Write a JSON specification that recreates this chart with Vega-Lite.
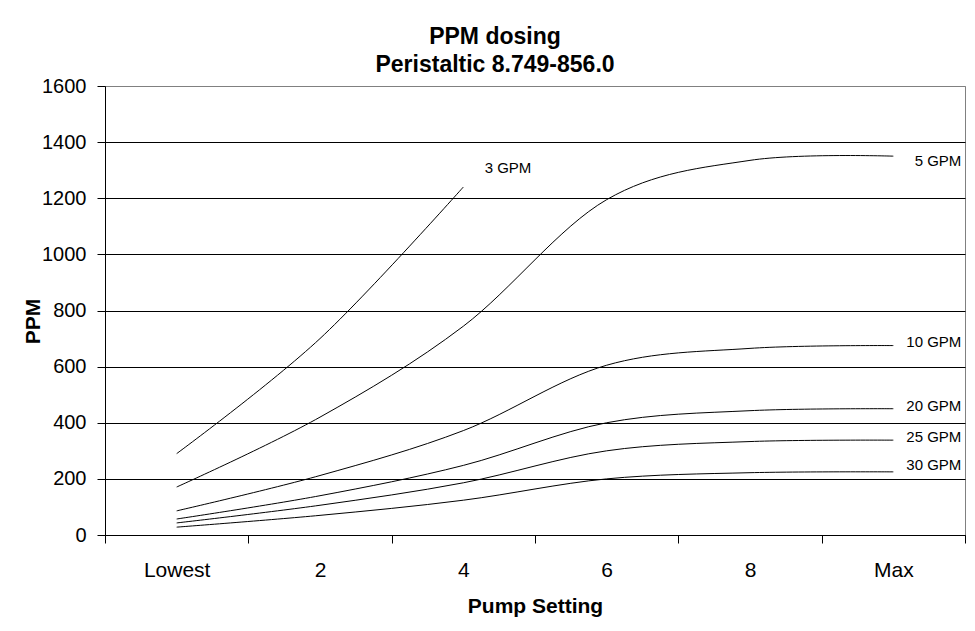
{
  "$schema": "https://vega.github.io/schema/vega-lite/v6.json",
  "autosize": {"type": "none"},
  "padding": {"left": 105, "top": 86, "right": 10, "bottom": 96},
  "width": 860,
  "height": 449,
  "background": "white",
  "title": {
    "text": ["PPM dosing", "Peristaltic 8.749-856.0"],
    "font": "Liberation Sans",
    "fontSize": 23,
    "fontWeight": "bold",
    "color": "black",
    "lineHeight": 28,
    "anchor": "middle",
    "frame": "group",
    "dx": -40,
    "offset": -1
  },
  "datasets": {
    "lines": [
      {"series": "3 GPM", "setting": "Lowest", "ppm": 290},
      {"series": "3 GPM", "setting": "2", "ppm": 700},
      {"series": "3 GPM", "setting": "4", "ppm": 1240},
      {"series": "5 GPM", "setting": "Lowest", "ppm": 171},
      {"series": "5 GPM", "setting": "2", "ppm": 420},
      {"series": "5 GPM", "setting": "4", "ppm": 744},
      {"series": "5 GPM", "setting": "6", "ppm": 1195},
      {"series": "5 GPM", "setting": "8", "ppm": 1335},
      {"series": "5 GPM", "setting": "Max", "ppm": 1350},
      {"series": "10 GPM", "setting": "Lowest", "ppm": 86},
      {"series": "10 GPM", "setting": "2", "ppm": 212},
      {"series": "10 GPM", "setting": "4", "ppm": 372},
      {"series": "10 GPM", "setting": "6", "ppm": 605},
      {"series": "10 GPM", "setting": "8", "ppm": 665},
      {"series": "10 GPM", "setting": "Max", "ppm": 675},
      {"series": "20 GPM", "setting": "Lowest", "ppm": 57},
      {"series": "20 GPM", "setting": "2", "ppm": 140},
      {"series": "20 GPM", "setting": "4", "ppm": 248},
      {"series": "20 GPM", "setting": "6", "ppm": 400},
      {"series": "20 GPM", "setting": "8", "ppm": 443},
      {"series": "20 GPM", "setting": "Max", "ppm": 450},
      {"series": "25 GPM", "setting": "Lowest", "ppm": 43},
      {"series": "25 GPM", "setting": "2", "ppm": 106},
      {"series": "25 GPM", "setting": "4", "ppm": 186},
      {"series": "25 GPM", "setting": "6", "ppm": 300},
      {"series": "25 GPM", "setting": "8", "ppm": 333},
      {"series": "25 GPM", "setting": "Max", "ppm": 338},
      {"series": "30 GPM", "setting": "Lowest", "ppm": 28},
      {"series": "30 GPM", "setting": "2", "ppm": 70},
      {"series": "30 GPM", "setting": "4", "ppm": 124},
      {"series": "30 GPM", "setting": "6", "ppm": 200},
      {"series": "30 GPM", "setting": "8", "ppm": 222},
      {"series": "30 GPM", "setting": "Max", "ppm": 225}
    ],
    "labels": [
      {"label": "3 GPM", "setting": "4", "ppm": 1309},
      {"label": "5 GPM", "setting": "Max", "ppm": 1333},
      {"label": "10 GPM", "setting": "Max", "ppm": 686},
      {"label": "20 GPM", "setting": "Max", "ppm": 460},
      {"label": "25 GPM", "setting": "Max", "ppm": 350},
      {"label": "30 GPM", "setting": "Max", "ppm": 248}
    ]
  },
  "encoding": {
    "x": {
      "field": "setting",
      "type": "ordinal",
      "bandPosition": 0.5,
      "scale": {
        "type": "band",
        "domain": ["Lowest", "2", "4", "6", "8", "Max"],
        "paddingInner": 0,
        "paddingOuter": 0
      },
      "axis": {
        "title": "Pump Setting",
        "labelAngle": 0,
        "tickBand": "extent",
        "tickSize": 8,
        "tickColor": "black",
        "domainColor": "black",
        "labelFont": "Liberation Sans",
        "labelFontSize": 21,
        "labelColor": "black",
        "labelPadding": 16,
        "titleFont": "Liberation Sans",
        "titleFontSize": 21,
        "titleFontWeight": "bold",
        "titleColor": "black",
        "titleBaseline": "alphabetic",
        "titleY": 77,
        "grid": false
      }
    },
    "y": {
      "field": "ppm",
      "type": "quantitative",
      "scale": {"domain": [0, 1600], "nice": false, "zero": true},
      "axis": {
        "title": "PPM",
        "values": [0, 200, 400, 600, 800, 1000, 1200, 1400, 1600],
        "format": "d",
        "tickSize": 8,
        "tickColor": "black",
        "domainColor": "black",
        "labelFont": "Liberation Sans",
        "labelFontSize": 20,
        "labelColor": "black",
        "labelPadding": 11,
        "titleFont": "Liberation Sans",
        "titleFontSize": 21,
        "titleFontWeight": "bold",
        "titleColor": "black",
        "titleBaseline": "alphabetic",
        "titleAlign": "center",
        "titleAngle": -90,
        "titleX": -66,
        "titleY": 235,
        "grid": true,
        "gridColor": {"condition": {"test": "datum.value == 1600", "value": "#808080"}, "value": "black"},
        "gridWidth": 1,
        "gridOpacity": 1
      }
    }
  },
  "layer": [
    {
      "data": {"name": "lines"},
      "mark": {"type": "line", "interpolate": "cardinal", "color": "black", "strokeWidth": 1},
      "encoding": {"detail": {"field": "series", "type": "nominal"}}
    },
    {
      "data": {"name": "labels"},
      "mark": {"type": "text", "align": "right", "baseline": "middle", "dx": 68, "font": "Liberation Sans", "fontSize": 15, "color": "black"},
      "encoding": {"text": {"field": "label", "type": "nominal"}}
    }
  ],
  "config": {
    "font": "Liberation Sans",
    "view": {"stroke": "#808080", "strokeWidth": 1}
  }
}
